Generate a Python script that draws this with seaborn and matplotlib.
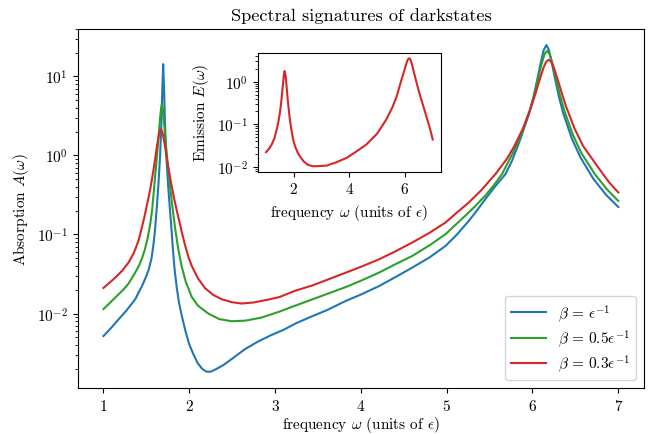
import numpy as np
import pandas as pd
import matplotlib
matplotlib.use("Agg")
import matplotlib.pyplot as plt
import seaborn as sns

plt.rcParams.update({
    "font.family": "serif",
    "font.serif": ["cmr10"],
    "mathtext.fontset": "cm",
    "axes.formatter.use_mathtext": True,
    "font.size": 11,
})

# ---- data (absorption, beta = 1/eps) ----
omega_b = [1.0, 1.09, 1.177, 1.27, 1.371, 1.429, 1.45, 1.49, 1.526, 1.56, 1.58, 1.60, 1.62,
           1.641, 1.661, 1.676, 1.686, 1.696, 1.706, 1.716, 1.731, 1.751, 1.77, 1.789, 1.81,
           1.83, 1.855, 1.88, 1.913, 1.96, 2.0, 2.05, 2.1, 2.15, 2.2, 2.25, 2.3, 2.4, 2.5,
           2.65, 2.8, 2.95, 3.1, 3.25, 3.44, 3.6, 3.827, 4.0, 4.213, 4.4, 4.6, 4.8, 4.987,
           5.12, 5.258, 5.335, 5.45, 5.56, 5.684, 5.76, 5.86, 5.96, 6.01, 6.06, 6.10, 6.13,
           6.162, 6.19, 6.22, 6.26, 6.31, 6.36, 6.46, 6.56, 6.71, 6.86, 7.0]
A_b = [0.0052, 0.0066, 0.00847, 0.011, 0.0152, 0.0203, 0.0224, 0.0282, 0.0355, 0.0501, 0.0708,
       0.112, 0.209, 0.437, 1.05, 2.75, 6.92, 14.3, 6.92, 2.75, 1.05, 0.457, 0.240, 0.132,
       0.0631, 0.0355, 0.0209, 0.0138, 0.00933, 0.00575, 0.00407, 0.00302, 0.00234, 0.00200,
       0.00184, 0.00184, 0.00195, 0.00224, 0.00269, 0.00355, 0.00442, 0.00531, 0.00624,
       0.00759, 0.00933, 0.0110, 0.0145, 0.0174, 0.0223, 0.0288, 0.0382, 0.0513, 0.0718,
       0.100, 0.149, 0.19, 0.28, 0.40, 0.579, 0.85, 1.62, 3.37, 5.42, 9.6, 15.5, 21.4,
       24.9, 21.8, 15.8, 9.6, 5.42, 3.37, 1.62, 0.94, 0.505, 0.315, 0.223]

# beta = 0.5/eps
omega_g = [1.0, 1.07, 1.139, 1.236, 1.293, 1.371, 1.42, 1.449, 1.48, 1.51, 1.545, 1.568, 1.595,
           1.621, 1.641, 1.661, 1.672, 1.681, 1.69, 1.70, 1.719, 1.739, 1.769, 1.80, 1.835,
           1.874, 1.913, 1.96, 2.029, 2.1, 2.222, 2.35, 2.493, 2.65, 2.841, 3.053, 3.227, 3.44,
           3.827, 4.0, 4.213, 4.4, 4.6, 4.8, 4.987, 5.12, 5.258, 5.335, 5.45, 5.55, 5.644,
           5.77, 5.87, 5.97, 6.02, 6.07, 6.11, 6.14, 6.171, 6.20, 6.23, 6.27, 6.32, 6.37, 6.47,
           6.57, 6.727, 6.87, 7.0]
A_g = [0.0114, 0.0135, 0.0160, 0.0203, 0.0240, 0.0331, 0.0417, 0.0501, 0.0631, 0.0851, 0.135,
       0.209, 0.447, 0.912, 1.66, 3.09, 3.98, 4.5, 3.98, 3.16, 1.74, 1.0, 0.479, 0.240, 0.120,
       0.0631, 0.0389, 0.0251, 0.0162, 0.0126, 0.0100, 0.00851, 0.0080, 0.00813, 0.00889,
       0.0106, 0.0125, 0.0152, 0.0217, 0.026, 0.0330, 0.042, 0.0536, 0.073, 0.101, 0.138,
       0.19, 0.23, 0.31, 0.42, 0.579, 1.07, 1.83, 3.71, 5.81, 9.73, 14.9, 19.1, 21.1, 19.1,
       14.9, 9.73, 5.81, 3.71, 1.83, 1.07, 0.579, 0.37, 0.266]

# beta = 0.3/eps
omega_r = [1.0, 1.07, 1.139, 1.22, 1.293, 1.35, 1.38, 1.41, 1.45, 1.479, 1.50, 1.522, 1.546,
           1.566, 1.586, 1.606, 1.626, 1.646, 1.659, 1.669, 1.679, 1.692, 1.712, 1.732, 1.752,
           1.772, 1.797, 1.825, 1.855, 1.885, 1.913, 1.951, 1.99, 2.029, 2.1, 2.183, 2.28,
           2.377, 2.5, 2.609, 2.75, 2.918, 3.053, 3.227, 3.44, 3.827, 4.0, 4.213, 4.4, 4.6,
           4.8, 4.987, 5.12, 5.258, 5.40, 5.567, 5.70, 5.79, 5.889, 5.989, 6.039, 6.089,
           6.129, 6.159, 6.189, 6.219, 6.249, 6.289, 6.339, 6.389, 6.489, 6.589, 6.766,
           6.89, 7.0]
A_r = [0.0211, 0.0245, 0.0286, 0.035, 0.0443, 0.0575, 0.069, 0.085, 0.126, 0.17, 0.219, 0.282,
       0.381, 0.506, 0.69, 0.967, 1.365, 1.835, 2.07, 2.13, 2.07, 1.86, 1.42, 1.03, 0.75,
       0.56, 0.40, 0.28, 0.20, 0.145, 0.107, 0.073, 0.052, 0.040, 0.028, 0.021, 0.0172,
       0.0152, 0.0139, 0.0134, 0.0138, 0.0150, 0.0162, 0.0193, 0.0228, 0.0330, 0.039,
       0.0486, 0.061, 0.0793, 0.105, 0.142, 0.19, 0.254, 0.36, 0.579, 0.9, 1.32, 2.2, 4.23,
       6.26, 9.5, 12.9, 15.3, 16.2, 15.3, 12.9, 9.5, 6.26, 4.23, 2.2, 1.32, 0.705, 0.46, 0.34]

# emission (inset), beta = 0.3/eps
omega_e = [1.0, 1.1, 1.2, 1.3, 1.4, 1.45, 1.5, 1.55, 1.59, 1.62, 1.645, 1.665, 1.685, 1.71,
           1.74, 1.77, 1.80, 1.85, 1.9, 1.975, 2.05, 2.15, 2.216, 2.35, 2.5, 2.69, 2.9, 3.18,
           3.5, 3.9, 4.25, 4.61, 5.0, 5.33, 5.55, 5.7, 5.81, 5.9, 5.98, 6.04, 6.09, 6.13,
           6.17, 6.21, 6.26, 6.33, 6.41, 6.5, 6.6, 6.77, 6.9, 7.0]
E_r = [0.0221, 0.0263, 0.0331, 0.0468, 0.0832, 0.120, 0.191, 0.355, 0.661, 1.05, 1.51, 1.78,
       1.66, 1.26, 0.759, 0.447, 0.282, 0.141, 0.0832, 0.0439, 0.0295, 0.0209, 0.0178,
       0.0135, 0.0112, 0.0103, 0.0104, 0.0107, 0.0126, 0.0162, 0.0229, 0.0335, 0.0603,
       0.130, 0.251, 0.447, 0.794, 1.26, 1.86, 2.51, 3.16, 3.51, 3.53, 3.16, 2.45, 1.6,
       1.0, 0.6, 0.36, 0.155, 0.08, 0.0439]

labels = [r"$\beta\,=\,\epsilon^{-1}$", r"$\beta\,=\,0.5\epsilon^{-1}$", r"$\beta\,=\,0.3\epsilon^{-1}$"]
colors = ["#1f77b4", "#2ca02c", "#d62728"]

fig = plt.figure(figsize=(6.51, 4.35), dpi=100)
ax = fig.add_axes([0.1194, 0.1057, 0.8699, 0.826])

for om, A, lab, c in zip([omega_b, omega_g, omega_r], [A_b, A_g, A_r], labels, colors):
    df = pd.DataFrame({"omega": om, "A": A})
    sns.lineplot(data=df, x="omega", y="A", ax=ax, color=c, label=lab,
                 estimator=None, linewidth=1.5)

ax.set_yscale("log")
ax.set_xlabel(r"frequency $\omega$ (units of $\epsilon$)", labelpad=1)
ax.set_ylabel(r"Absorption $A(\omega)$")
ax.set_title("Spectral signatures of darkstates")
ax.legend(loc="lower right", labelspacing=0.25, handlelength=2.3)

ins = fig.add_axes([0.3959, 0.603, 0.2816, 0.2729])
dfe = pd.DataFrame({"omega": omega_e, "E": E_r})
sns.lineplot(data=dfe, x="omega", y="E", ax=ins, color=colors[2], estimator=None, linewidth=1.5)
ins.set_yscale("log")
ins.set_xticks([2, 4, 6])
ins.set_xlabel(r"frequency $\omega$ (units of $\epsilon$)")
ins.set_ylabel(r"Emission $E(\omega)$")

fig.savefig("out.png", dpi=100)
